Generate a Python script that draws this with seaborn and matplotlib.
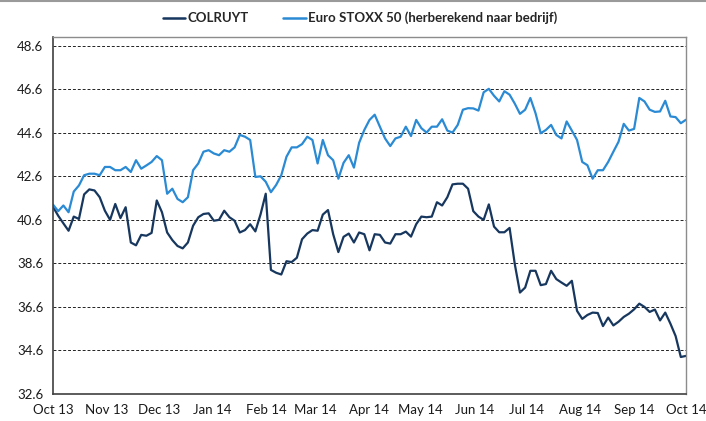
import pandas as pd
import numpy as np
import matplotlib.pyplot as plt
import matplotlib.dates as mdates
from matplotlib.lines import Line2D
import seaborn as sns

# ~3-day sampling from Oct 1 2013 to Oct 1 2014
dates = pd.date_range('2013-10-01', '2014-10-01', periods=123)

colruyt = [
    41.2, 40.79, 40.44, 40.1, 40.75, 40.64, 41.77, 42.0, 41.95, 41.64,
    41.02, 40.6, 41.33, 40.68, 41.18, 39.56, 39.43, 39.91, 39.87, 40.0,
    41.49, 40.95, 40.02, 39.67, 39.4, 39.29, 39.56, 40.33, 40.72, 40.87,
    40.9, 40.56, 40.6, 41.02, 40.72, 40.56, 40.02, 40.13, 40.4, 40.07,
    40.85, 41.8, 38.3, 38.17, 38.09, 38.7, 38.66, 38.86, 39.71, 39.97,
    40.13, 40.1, 40.84, 41.05, 39.94, 39.12, 39.82, 39.97, 39.56, 40.02,
    39.94, 39.2, 39.94, 39.91, 39.56, 39.51, 39.94, 39.94, 40.06, 39.83,
    40.4, 40.75, 40.72, 40.75, 41.41, 41.26, 41.64, 42.23, 42.26, 42.26,
    42.03, 41.0, 40.75, 40.6, 41.31, 40.29, 40.03, 40.03, 40.23, 38.57,
    37.26, 37.49, 38.26, 38.26, 37.6, 37.65, 38.26, 37.88, 37.72, 37.57,
    37.8, 36.42, 36.05, 36.23, 36.34, 36.32, 35.72, 36.11, 35.75, 35.92,
    36.14, 36.29, 36.49, 36.75, 36.6, 36.37, 36.48, 35.98, 36.34, 35.83,
    35.26, 34.3, 34.35,
]

euro_stoxx = [
    41.3, 41.0, 41.26, 40.95, 41.9, 42.18, 42.65, 42.72, 42.72, 42.65,
    43.03, 43.03, 42.88, 42.88, 43.03, 42.8, 43.34, 42.95, 43.1, 43.26,
    43.53, 43.34, 41.8, 42.03, 41.56, 41.41, 41.64, 42.88, 43.19, 43.73,
    43.8, 43.65, 43.57, 43.8, 43.73, 43.93, 44.5, 44.42, 44.27, 42.57,
    42.6, 42.35, 41.87, 42.2, 42.65, 43.5, 43.93, 43.93, 44.08, 44.42,
    44.27, 43.19, 44.27, 43.57, 43.34, 42.49, 43.22, 43.57, 43.0, 44.14,
    44.73, 45.19, 45.43, 44.88, 44.34, 43.99, 44.34, 44.42, 44.88, 44.45,
    45.19, 44.81, 44.61, 44.88, 44.88, 45.22, 44.7, 44.61, 44.96, 45.66,
    45.73, 45.72, 45.62, 46.46, 46.62, 46.3, 46.04, 46.51, 46.35, 45.94,
    45.47, 45.66, 46.2, 45.5, 44.58, 44.73, 44.96, 44.5, 44.34, 45.12,
    44.7, 44.27, 43.26, 43.11, 42.49, 42.88, 42.88, 43.26, 43.73, 44.19,
    45.01, 44.7, 44.78, 46.2, 46.04, 45.66, 45.56, 45.58, 46.07, 45.35,
    45.32, 45.04, 45.2,
]

series_names = ['COLRUYT', 'Euro STOXX 50 (herberekend naar bedrijf)']
y_ticks = [32.6, 34.6, 36.6, 38.6, 40.6, 42.6, 44.6, 46.6, 48.6]

df = pd.DataFrame({'Datum': dates, series_names[0]: colruyt, series_names[1]: euro_stoxx})
long_df = df.melt(id_vars='Datum', var_name='Reeks', value_name='Koers')

sns.set_style('white')
plt.rcParams['font.family'] = ['Lato', 'DejaVu Sans']

fig = plt.figure(figsize=(7.06, 4.21), dpi=100)
ax = fig.add_axes([53 / 706, 27 / 421, 633 / 706, 357 / 421])

palette = {series_names[0]: '#17375e', series_names[1]: '#2a8ad4'}
sns.lineplot(data=long_df, x='Datum', y='Koers', hue='Reeks', palette=palette,
             linewidth=1.6, ax=ax, legend=False)

ax.set_xlim(pd.Timestamp('2013-10-01'), pd.Timestamp('2014-10-01'))
ax.set_ylim(32.6, 49.0)
ax.set_yticks(y_ticks)
ax.set_yticklabels([f'{v:.1f}' for v in y_ticks])
ax.xaxis.set_major_locator(mdates.MonthLocator())
ax.xaxis.set_major_formatter(mdates.DateFormatter('%b %y'))
ax.set_xlabel('')
ax.set_ylabel('')

for v in y_ticks[1:]:
    ax.axhline(v, color='#222222', linestyle=(0, (3, 2)), linewidth=0.7, zorder=0)

ax.tick_params(axis='both', direction='out', length=4, width=1, color='#404040',
               labelsize=9.5, labelcolor='#1a1a1a', pad=3)
for side in ['left', 'bottom']:
    ax.spines[side].set_color('#404040')
    ax.spines[side].set_linewidth(1.2)
for side in ['top', 'right']:
    ax.spines[side].set_color('#8c8c8c')
    ax.spines[side].set_linewidth(1.0)

handles = [Line2D([], [], color=palette[n], linewidth=1.8) for n in series_names]
fig.legend(handles, series_names, loc='center', bbox_to_anchor=(0.51, 0.957), ncol=2,
           frameon=False, handlelength=1.7, handletextpad=0.2, columnspacing=2.6,
           prop={'weight': 'bold', 'size': 9.5})

fig.add_artist(Line2D([0, 1], [0.998, 0.998], color='#9a9a9a', linewidth=1.5))

fig.savefig('out.png', dpi=100)
